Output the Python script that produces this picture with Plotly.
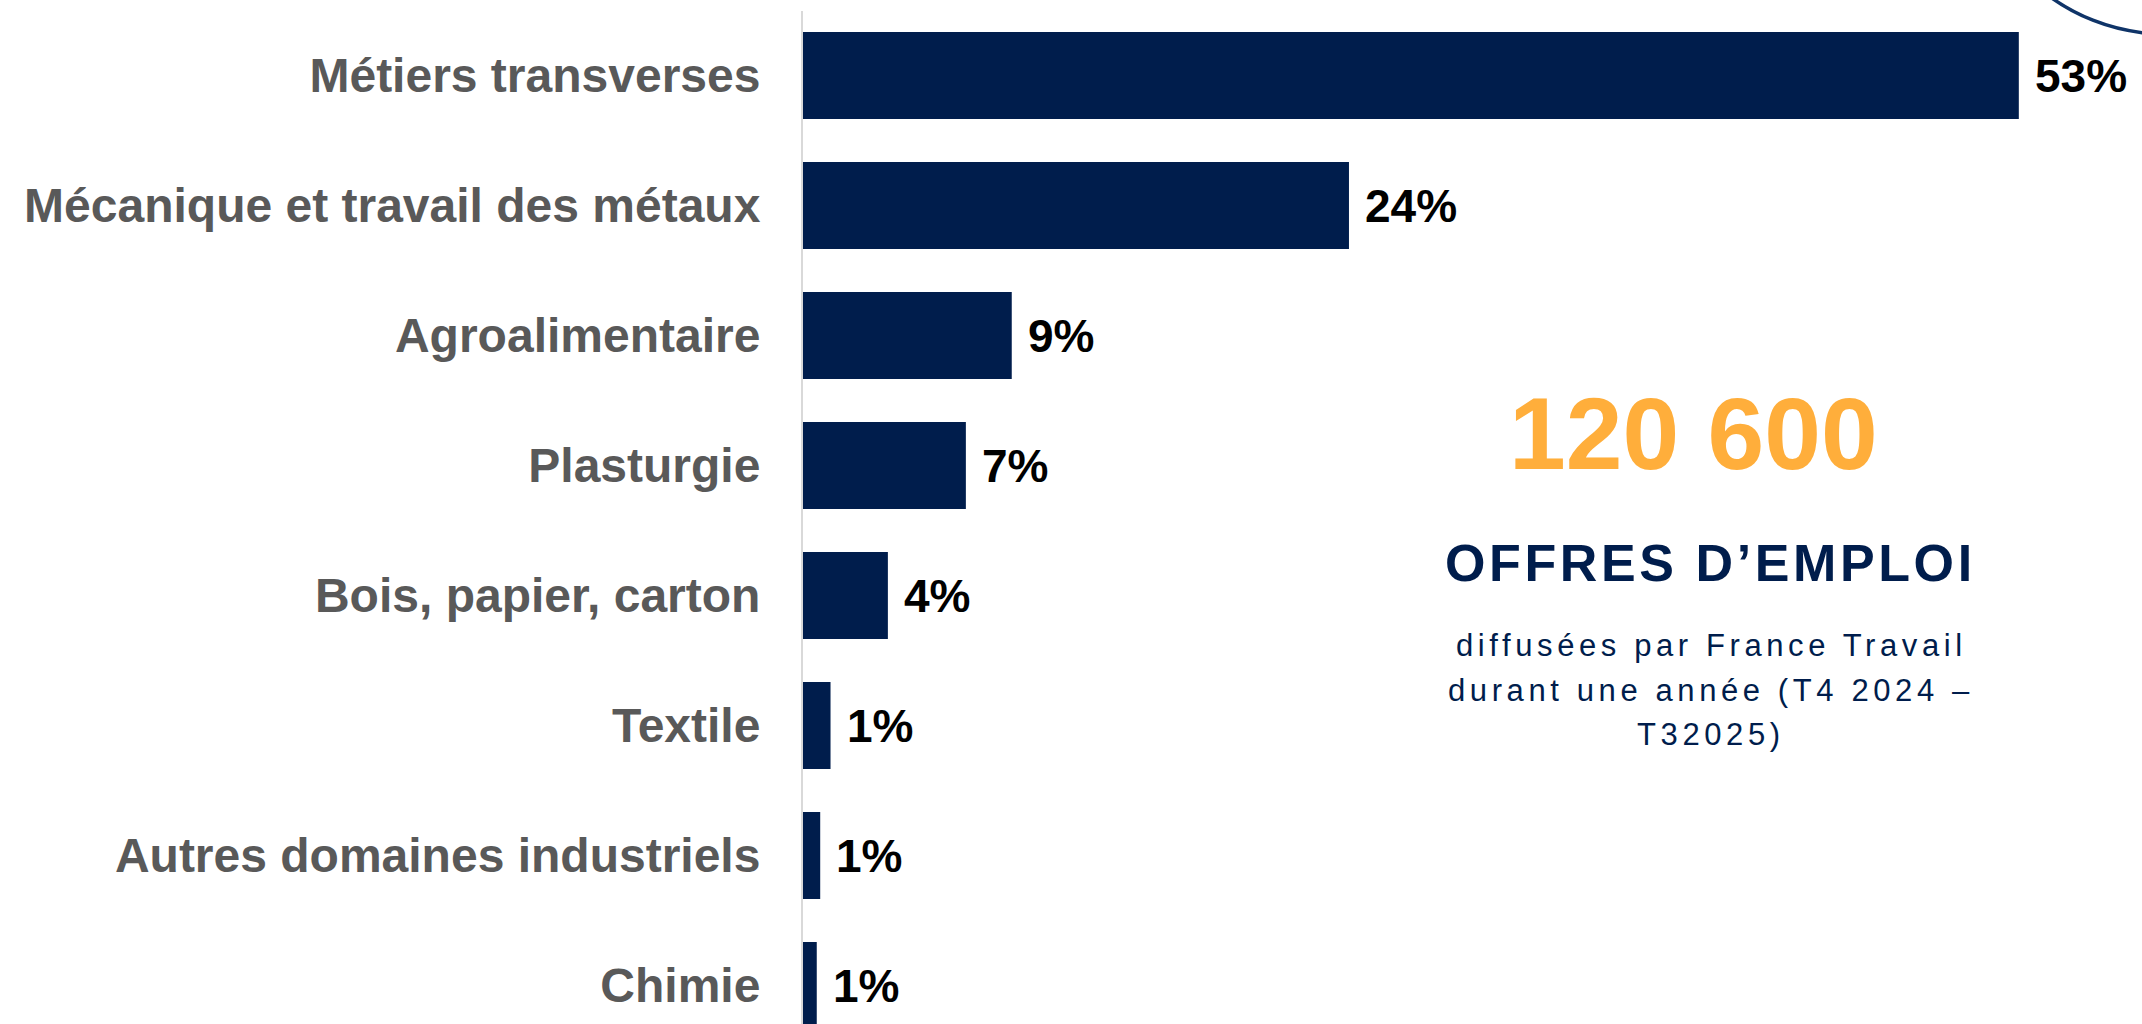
import plotly.graph_objects as go

categories = [
    "Métiers transverses",
    "Mécanique et travail des métaux",
    "Agroalimentaire",
    "Plasturgie",
    "Bois, papier, carton",
    "Textile",
    "Autres domaines industriels",
    "Chimie",
]
values = [53.0, 23.8, 9.1, 7.1, 3.7, 1.2, 0.75, 0.6]
value_labels = ["53%", "24%", "9%", "7%", "4%", "1%", "1%", "1%"]

kpi_number = "120 600"
kpi_title = "OFFRES D’EMPLOI"
kpi_sub = ["diffusées par France Travail", "durant une année (T4 2024 –", "T32025)"]

# the page margin is removed by post_script below, so no offset
OFF = 0
W, H = 2142, 1024
AXIS_X, TOP_Y = 803, 11          # screenshot coordinates
L, T = AXIS_X - OFF, TOP_Y - OFF
R, B = 0, 0
PW, PH = W - L - R, H - T - B
PX_PER_UNIT = 22.94

NAVY = "#001d4c"
FONT = "Arial, Liberation Sans, sans-serif"


def px_x(x):
    return (x - OFF - L) / PW


def px_y(y):
    return (H - B - (y - OFF)) / PH


fig = go.Figure(
    go.Bar(
        x=values,
        y=categories,
        orientation="h",
        marker=dict(color=NAVY, line=dict(width=0)),
        hoverinfo="skip",
    )
)

annotations = []
for c, v, lab in zip(categories, values, value_labels):
    annotations.append(
        dict(
            x=v, y=c, xref="x", yref="y", text=lab, showarrow=False,
            xanchor="left", yanchor="middle", xshift=14,
            font=dict(family=FONT, size=46, color="#000000", weight="bold"),
        )
    )

annotations.append(
    dict(
        x=px_x(1693), y=px_y(434), xref="paper", yref="paper", text=kpi_number,
        showarrow=False, xanchor="center", yanchor="middle",
        font=dict(family=FONT, size=102, color="#FFAE3B", weight="bold"),
    )
)
annotations.append(
    dict(
        x=px_x(1710), y=px_y(563), xref="paper", yref="paper",
        text='<span style="letter-spacing:3.6px">' + kpi_title + "</span>",
        showarrow=False, xanchor="center", yanchor="middle",
        font=dict(family=FONT, size=52, color=NAVY, weight="bold"),
    )
)
for i, line in enumerate(kpi_sub):
    annotations.append(
        dict(
            x=px_x(1711), y=px_y(645 + 45 * i), xref="paper", yref="paper",
            text='<span style="letter-spacing:4.6px">' + line + "</span>",
            showarrow=False, xanchor="center", yanchor="middle", align="center",
            font=dict(family=FONT, size=31, color=NAVY),
        )
    )

CX, CY, RAD = 2165, -162, 196   # screenshot coordinates
shapes = [
    dict(
        type="circle", xref="paper", yref="paper",
        xsizemode="pixel", ysizemode="pixel",
        xanchor=1, yanchor=1,
        x0=(CX - OFF) - RAD - W, x1=(CX - OFF) + RAD - W,
        y0=-((CY - OFF) + RAD - T), y1=-((CY - OFF) - RAD - T),
        line=dict(color="#0f3468", width=3.5),
        fillcolor="rgba(0,0,0,0)",
        layer="above",
    )
]

fig.update_layout(
    width=W, height=H,
    margin=dict(l=L, r=R, t=T, b=B, autoexpand=False),
    paper_bgcolor="white", plot_bgcolor="white",
    showlegend=False,
    bargap=0.33,
    annotations=annotations,
    shapes=shapes,
    xaxis=dict(
        range=[0, PW / PX_PER_UNIT], visible=False, showgrid=False, zeroline=False,
    ),
    yaxis=dict(
        type="category",
        range=[(H + OFF - 75.5) / 130, (TOP_Y - 75.5) / 130],
        showline=True, linecolor="#d9d9d9", linewidth=2,
        showgrid=False, zeroline=False, ticks="",
        ticklabelstandoff=31,
        tickfont=dict(family=FONT, size=48, color="#595959", weight="bold"),
        automargin=False,
    ),
)

fig.write_html(
    "out.html",
    config={"displayModeBar": False},
    post_script="document.body.style.margin='0';document.body.style.overflow='hidden';",
)
